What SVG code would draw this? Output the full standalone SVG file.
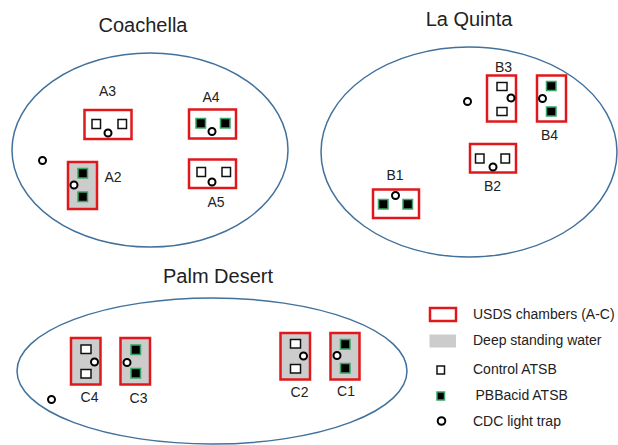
<svg xmlns="http://www.w3.org/2000/svg" width="618" height="445" viewBox="0 0 618 445">
<style>
text{font-family:"Liberation Sans",Arial,sans-serif;fill:#222}
.title{font-size:20px;text-anchor:middle}
.lbl{font-size:14px;text-anchor:middle}
.leg{font-size:14px}
.site{fill:none;stroke:#41719c;stroke-width:1.5}
.ch{fill:#fff;stroke:#e0181b;stroke-width:2.5}
.wet{fill:#cccccc;stroke:#e0181b;stroke-width:2.5}
.ctl{fill:#fff;stroke:#111;stroke-width:1.5}
.pbb{fill:#000;stroke:#3aa564;stroke-width:1.5}
.trap{fill:#fff;stroke:#000;stroke-width:2}
</style>
<rect width="618" height="445" fill="#fff"/>

<g id="coachella">
<ellipse class="site" cx="150" cy="150" rx="138" ry="97"/>
<text class="title" x="143" y="32">Coachella</text>
<circle class="trap" cx="42.5" cy="160.5" r="3.5"/>
</g>
<g id="A3">
<rect class="ch" x="84.5" y="110" width="47" height="29"/>
<rect class="ctl" x="92" y="119.5" width="8.5" height="9"/>
<rect class="ctl" x="118" y="119.5" width="8.5" height="9"/>
<circle class="trap" cx="108" cy="133" r="3.5"/>
<text class="lbl" x="107.5" y="96">A3</text>
</g>
<g id="A4">
<rect class="ch" x="189" y="109.5" width="47" height="29"/>
<rect class="pbb" x="196" y="118.5" width="9.5" height="9.5"/>
<rect class="pbb" x="220.5" y="118.5" width="9.5" height="9.5"/>
<circle class="trap" cx="212" cy="131.5" r="3.5"/>
<text class="lbl" x="211" y="101.5">A4</text>
</g>
<g id="A5">
<rect class="ch" x="189" y="159.5" width="47" height="28.5"/>
<rect class="ctl" x="197" y="167.5" width="8.5" height="9"/>
<rect class="ctl" x="222" y="167.5" width="8.5" height="9"/>
<circle class="trap" cx="212" cy="182" r="3.5"/>
<text class="lbl" x="216" y="207">A5</text>
</g>
<g id="A2">
<rect class="wet" x="68" y="162" width="29" height="47"/>
<rect class="pbb" x="78" y="168.5" width="9.5" height="9.5"/>
<rect class="pbb" x="78" y="192" width="9.5" height="9.5"/>
<circle class="trap" cx="74" cy="185" r="3.5"/>
<text class="lbl" x="113" y="181.5">A2</text>
</g>

<g id="la-quinta">
<ellipse class="site" cx="469" cy="152" rx="148" ry="105"/>
<text class="title" x="469" y="25.5">La Quinta</text>
<circle class="trap" cx="467.5" cy="101.5" r="3.5"/>
</g>
<g id="B3">
<rect class="ch" x="487" y="75.5" width="29" height="46"/>
<rect class="ctl" x="497" y="82.5" width="10" height="8"/>
<rect class="ctl" x="497" y="107.5" width="10" height="8"/>
<circle class="trap" cx="511" cy="98" r="3.5"/>
<text class="lbl" x="503.5" y="71.5">B3</text>
</g>
<g id="B4">
<rect class="ch" x="537" y="75.5" width="29" height="46"/>
<rect class="pbb" x="546.5" y="81.5" width="9.5" height="9"/>
<rect class="pbb" x="546.5" y="107" width="9.5" height="9"/>
<circle class="trap" cx="542.5" cy="98.5" r="3.5"/>
<text class="lbl" x="549.5" y="140">B4</text>
</g>
<g id="B2">
<rect class="ch" x="470" y="144" width="46" height="28.5"/>
<rect class="ctl" x="475.5" y="154" width="8.5" height="9"/>
<rect class="ctl" x="501" y="154" width="8.5" height="9"/>
<circle class="trap" cx="493" cy="167" r="3.5"/>
<text class="lbl" x="492.5" y="191">B2</text>
</g>
<g id="B1">
<rect class="ch" x="373" y="189.5" width="46" height="28.5"/>
<rect class="pbb" x="378.5" y="199.5" width="9.5" height="9.5"/>
<rect class="pbb" x="403" y="199.5" width="9.5" height="9.5"/>
<circle class="trap" cx="395.5" cy="195.5" r="3.5"/>
<text class="lbl" x="395" y="180">B1</text>
</g>

<g id="palm-desert">
<ellipse class="site" cx="212" cy="371" rx="195" ry="73"/>
<text class="title" x="218" y="283">Palm Desert</text>
<circle class="trap" cx="51.5" cy="399.5" r="3.5"/>
</g>
<g id="C4">
<rect class="wet" x="71" y="338" width="29.5" height="46.5"/>
<rect class="ctl" x="81" y="345" width="10" height="8.5"/>
<rect class="ctl" x="81" y="369.5" width="10" height="8.5"/>
<circle class="trap" cx="94.5" cy="362" r="3.5"/>
<text class="lbl" x="89.5" y="401.5">C4</text>
</g>
<g id="C3">
<rect class="wet" x="120.5" y="338" width="29.5" height="46.5"/>
<rect class="pbb" x="131" y="345" width="9.5" height="9.5"/>
<rect class="pbb" x="131" y="368.5" width="9.5" height="9.5"/>
<circle class="trap" cx="127" cy="362.5" r="3.5"/>
<text class="lbl" x="138.5" y="402.5">C3</text>
</g>
<g id="C2">
<rect class="wet" x="280.5" y="333" width="29.5" height="46.5"/>
<rect class="ctl" x="290.5" y="339.5" width="10" height="8.5"/>
<rect class="ctl" x="290.5" y="364.5" width="10" height="8.5"/>
<circle class="trap" cx="303.5" cy="356" r="3.5"/>
<text class="lbl" x="299.5" y="397">C2</text>
</g>
<g id="C1">
<rect class="wet" x="330.5" y="333" width="29" height="46.5"/>
<rect class="pbb" x="340.5" y="339.5" width="9.5" height="9.5"/>
<rect class="pbb" x="340.5" y="363.5" width="9.5" height="9.5"/>
<circle class="trap" cx="337" cy="355.5" r="3.5"/>
<text class="lbl" x="346" y="396">C1</text>
</g>

<g id="legend">
<rect class="ch" x="430" y="308" width="26" height="13"/>
<rect x="429.5" y="334.5" width="26.5" height="13" fill="#cccccc"/>
<rect class="ctl" x="437" y="366" width="7.5" height="8"/>
<rect class="pbb" x="437" y="392" width="7.5" height="8"/>
<circle class="trap" cx="441.5" cy="421" r="3.8"/>
<text class="leg" x="473" y="318.5">USDS chambers (A-C)</text>
<text class="leg" x="473" y="345">Deep standing water</text>
<text class="leg" x="473" y="373.5">Control ATSB</text>
<text class="leg" x="475.5" y="400">PBBacid ATSB</text>
<text class="leg" x="473" y="426">CDC light trap</text>
</g>
<g id="connectors"/>
</svg>
